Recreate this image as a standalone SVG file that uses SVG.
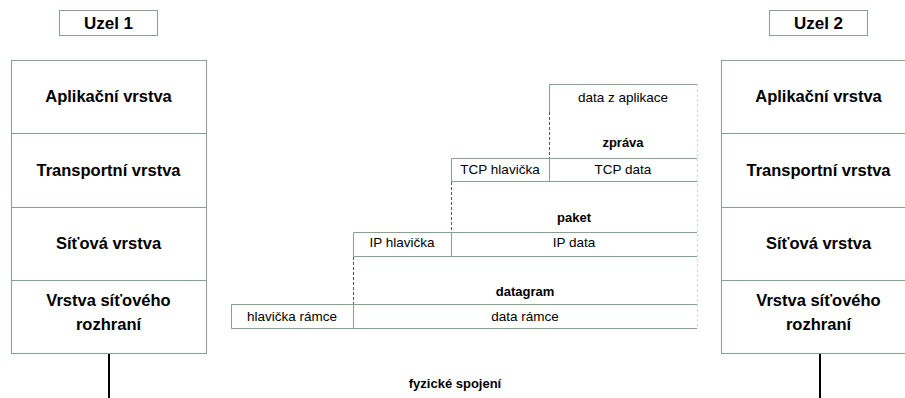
<svg xmlns="http://www.w3.org/2000/svg" width="905" height="398" viewBox="0 0 905 398">
  <style>
    .box { fill: #ffffff; stroke: #87a092; stroke-width: 1; }
    .div { stroke: #87a092; stroke-width: 1; fill: none; }
    .faint { stroke: #d4ddd8; stroke-width: 1; fill: none; stroke-dasharray: 3 2; }
    .dash { stroke: #555555; stroke-width: 1; fill: none; stroke-dasharray: 3 2; }
    .wire { stroke: #000000; stroke-width: 2; }
    .title { font-family: "Liberation Sans", Arial, sans-serif; font-weight: bold; font-size: 17px; fill: #000; text-anchor: middle; }
    .layer { font-family: "Liberation Sans", Arial, sans-serif; font-weight: bold; font-size: 16.5px; fill: #000; text-anchor: middle; }
    .cell { font-family: "Liberation Sans", Arial, sans-serif; font-size: 13.5px; fill: #000; text-anchor: middle; }
    .unit { font-family: "Liberation Sans", Arial, sans-serif; font-weight: bold; font-size: 13px; fill: #000; text-anchor: middle; }
  </style>

  <!-- Node 1: protocol stack -->
  <g id="uzel1">
    <rect class="box" x="59.5" y="10.5" width="98" height="25"/>
    <text class="title" x="108.5" y="29">Uzel 1</text>
    <rect class="box" x="11.5" y="60.5" width="195" height="293"/>
    <line class="div" x1="11.5" y1="133.5" x2="206.5" y2="133.5"/>
    <line class="div" x1="11.5" y1="207.5" x2="206.5" y2="207.5"/>
    <line class="div" x1="11.5" y1="280.5" x2="206.5" y2="280.5"/>
    <text class="layer" x="108.5" y="102">Aplikační vrstva</text>
    <text class="layer" x="108.5" y="176">Transportní vrstva</text>
    <text class="layer" x="108.5" y="249">Síťová vrstva</text>
    <text class="layer" x="108.5" y="306">Vrstva síťového</text>
    <text class="layer" x="108.5" y="330">rozhraní</text>
  </g>

  <!-- Node 2: protocol stack -->
  <g id="uzel2">
    <rect class="box" x="769.5" y="10.5" width="98" height="25"/>
    <text class="title" x="818.5" y="29">Uzel 2</text>
    <rect class="box" x="721.5" y="60.5" width="195" height="293"/>
    <line class="div" x1="721.5" y1="133.5" x2="905" y2="133.5"/>
    <line class="div" x1="721.5" y1="207.5" x2="905" y2="207.5"/>
    <line class="div" x1="721.5" y1="280.5" x2="905" y2="280.5"/>
    <text class="layer" x="818.5" y="102">Aplikační vrstva</text>
    <text class="layer" x="818.5" y="176">Transportní vrstva</text>
    <text class="layer" x="818.5" y="249">Síťová vrstva</text>
    <text class="layer" x="818.5" y="306">Vrstva síťového</text>
    <text class="layer" x="818.5" y="330">rozhraní</text>
  </g>

  <!-- Encapsulation: application data -->
  <g id="aplikace">
    <line class="div" x1="549.5" y1="84.5" x2="697" y2="84.5"/>
    <line class="div" x1="549.5" y1="84.5" x2="549.5" y2="112"/>
    <text class="cell" x="623" y="102">data z aplikace</text>
    <text class="unit" x="623" y="147">zpráva</text>
  </g>

  <!-- Encapsulation: TCP segment -->
  <g id="tcp">
    <path class="div" d="M697 158.5 H451.5 V181.5 H697 M549.5 158.5 V181.5"/>
    <text class="cell" x="500" y="174">TCP hlavička</text>
    <text class="cell" x="623" y="174">TCP data</text>
    <text class="unit" x="574" y="222">paket</text>
  </g>

  <!-- Encapsulation: IP packet -->
  <g id="ip">
    <path class="div" d="M697 232.5 H353.5 V256.5 H697 M451.5 232.5 V256.5"/>
    <text class="cell" x="402" y="247">IP hlavička</text>
    <text class="cell" x="574" y="247">IP data</text>
    <text class="unit" x="525" y="296">datagram</text>
  </g>

  <!-- Encapsulation: link-layer frame -->
  <g id="ramec">
    <path class="div" d="M697 304.5 H231.5 V328.5 H697 M353.5 304.5 V328.5"/>
    <text class="cell" x="292" y="321">hlavička rámce</text>
    <text class="cell" x="525" y="321">data rámce</text>
  </g>

  <!-- Connectors: dashed header guides and physical link -->
  <g id="connectors">
    <line class="faint" x1="697.5" y1="84" x2="697.5" y2="329"/>
    <line class="dash" x1="549.5" y1="112" x2="549.5" y2="158"/>
    <line class="dash" x1="451.5" y1="182" x2="451.5" y2="232"/>
    <line class="dash" x1="353.5" y1="257" x2="353.5" y2="304"/>
    <line class="wire" x1="109" y1="354" x2="109" y2="398"/>
    <line class="wire" x1="820" y1="354" x2="820" y2="398"/>
    <text class="unit" x="455" y="388">fyzické spojení</text>
  </g>
</svg>
